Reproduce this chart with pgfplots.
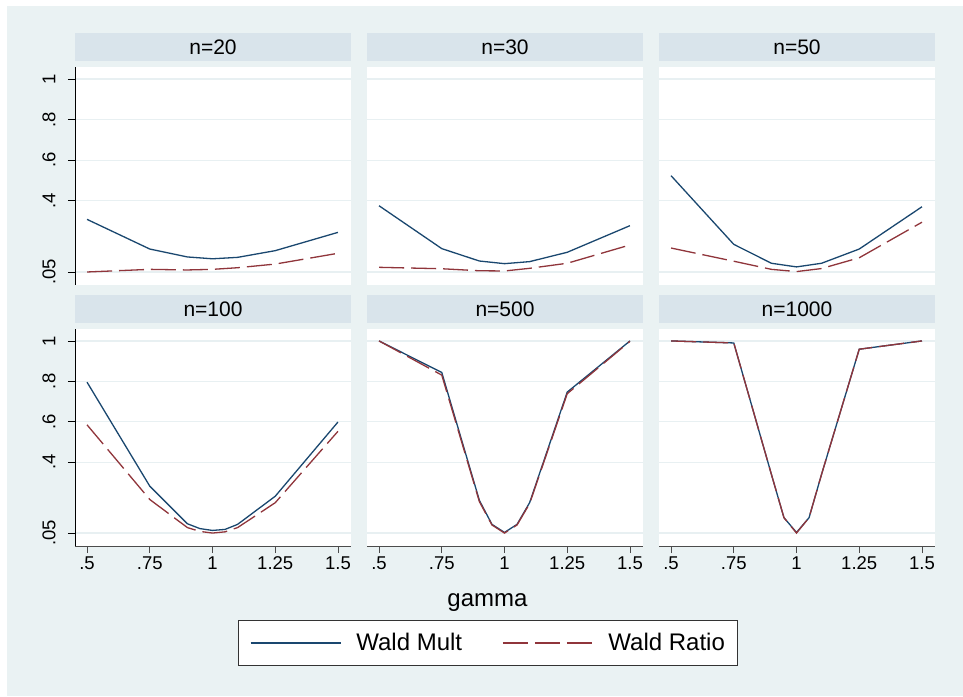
\documentclass[border=0pt]{standalone}
\usepackage{fontspec}
\setmainfont{Liberation Sans}
\usepackage{pgfplots}
\pgfplotsset{compat=1.18}
\definecolor{bgc}{RGB}{234,242,243}
\definecolor{hdr}{RGB}{217,228,235}
\definecolor{gridc}{RGB}{232,240,242}
\definecolor{navy}{RGB}{26,71,111}
\definecolor{maroon}{RGB}{144,53,59}
\newcommand{\tlfont}{\fontsize{18.5}{20}\selectfont}
\pgfplotsset{
 panel/.style={
  scale only axis, width=276pt, height=218pt,
  xmin=0.452, xmax=1.552, ymin=-0.014, ymax=1.059,
  axis background/.style={fill=white},
  axis x line*=bottom, axis y line*=left,
  x axis line style={draw=none}, y axis line style={draw=none},
  xtick={0.5,0.75,1,1.25,1.5}, ytick={0.05,0.4,0.6,0.8,1},
  xticklabels={}, yticklabels={},
  xtick style={draw=none}, ytick style={draw=none},
  ymajorgrids, major grid style={gridc, line width=1.2pt},
  tick align=outside, major tick length=7pt,
  /pgf/number format/assume math mode=true,
  every tick label/.append style={font=\tlfont},
  xticklabel style={font=\tlfont},
  title style={fill=hdr, minimum width=276pt, minimum height=28pt, inner sep=0pt,
    anchor=south, at={(0.5,1)}, yshift=0pt, font=\fontsize{21}{24}\selectfont},
  clip=false,
 },
 yleft/.style={
  yticklabels={.05,.4,.6,.8,1},
  ytick style={draw=black, line width=0.8pt},
  y axis line style={draw=black, line width=0.8pt},
  yticklabel style={rotate=90, anchor=south, font=\tlfont, yshift=9pt},
 },
 xbottom/.style={
  height=217pt,
  xticklabels={.5,.75,1,1.25,1.5},
  xtick style={draw=black!70, line width=0.8pt},
  x axis line style={draw=black!70, line width=0.8pt},
 },
 wm/.style={navy, line width=1.3pt},
 wr/.style={maroon, line width=1.3pt, dash pattern=on 25pt off 7pt},
}
\begin{document}
\begin{tikzpicture}[x=1pt,y=1pt]
\fill[white] (0,0) rectangle (963,696);
\fill[bgc] (7,0) rectangle (963,690);
\path[use as bounding box] (0,0) rectangle (963,696);

% n=20
\begin{axis}[panel, yleft, at={(75pt,411pt)}, anchor=south west, title={n=20}]
\addplot[wm] coordinates {(0.5,0.309)(0.75,0.163)(0.9,0.124)(1,0.115)(1.1,0.122)(1.25,0.155)(1.5,0.245)};
\addplot[wr] coordinates {(0.5,0.050)(0.75,0.063)(0.9,0.060)(1,0.063)(1.1,0.071)(1.25,0.089)(1.5,0.142)};
\end{axis}

% n=30
\begin{axis}[panel, at={(367pt,411pt)}, anchor=south west, title={n=30}]
\addplot[wm] coordinates {(0.5,0.376)(0.75,0.165)(0.9,0.104)(1,0.091)(1.1,0.101)(1.25,0.147)(1.5,0.278)};
\addplot[wr] coordinates {(0.5,0.073)(0.75,0.066)(0.9,0.056)(1,0.055)(1.1,0.068)(1.25,0.093)(1.5,0.183)};
\end{axis}

% n=50
\begin{axis}[panel, at={(659pt,411pt)}, anchor=south west, title={n=50}]
\addplot[wm] coordinates {(0.5,0.524)(0.75,0.186)(0.9,0.093)(1,0.075)(1.1,0.093)(1.25,0.163)(1.5,0.371)};
\addplot[wr] coordinates {(0.5,0.168)(0.75,0.103)(0.9,0.063)(1,0.052)(1.1,0.067)(1.25,0.120)(1.5,0.295)};
\end{axis}

% n=100
\begin{axis}[panel, yleft, xbottom, at={(75pt,150pt)}, anchor=south west, title={n=100}]
\addplot[wm] coordinates {(0.5,0.796)(0.75,0.282)(0.9,0.096)(0.95,0.072)(1,0.063)(1.05,0.068)(1.1,0.093)(1.25,0.232)(1.5,0.599)};
\addplot[wr] coordinates {(0.5,0.585)(0.75,0.216)(0.9,0.077)(0.95,0.058)(1,0.050)(1.05,0.056)(1.1,0.077)(1.25,0.200)(1.5,0.553)};
\end{axis}

% n=500
\begin{axis}[panel, xbottom, at={(367pt,150pt)}, anchor=south west, title={n=500},
  xlabel={gamma},
  xlabel style={at={(axis description cs:0.4366,-0.281)}, anchor=base, font=\fontsize{24}{26}\selectfont},
  legend columns=2,
  legend image code/.code={\draw[#1] (0pt,0pt) -- (90pt,0pt);},
  legend style={at={(0.4366,-0.447)}, anchor=center, draw=black!80, line width=0.8pt, fill=white,
    font=\fontsize{24}{26}\selectfont, inner xsep=12pt, inner ysep=13pt,
    nodes={inner sep=0pt},
    /tikz/every odd column/.append style={column sep=15pt},
    /tikz/every even column/.append style={column sep=40pt}},
  legend cell align=left]
\addplot[wm] coordinates {(0.5,1.0)(0.75,0.844)(0.9,0.211)(0.95,0.093)(1,0.053)(1.05,0.093)(1.1,0.200)(1.25,0.747)(1.5,1.0)};
\addlegendentry{Wald Mult}
\addplot[wr] coordinates {(0.5,1.0)(0.75,0.831)(0.9,0.205)(0.95,0.090)(1,0.050)(1.05,0.090)(1.1,0.195)(1.25,0.739)(1.5,0.998)};
\addlegendentry{Wald Ratio}
\end{axis}

% n=1000
\begin{axis}[panel, xbottom, at={(659pt,150pt)}, anchor=south west, title={n=1000}]
\addplot[wm] coordinates {(0.5,1.0)(0.75,0.990)(0.9,0.340)(0.95,0.126)(1,0.053)(1.05,0.126)(1.1,0.341)(1.25,0.959)(1.5,1.0)};
\addplot[wr] coordinates {(0.5,1.0)(0.75,0.990)(0.9,0.340)(0.95,0.126)(1,0.050)(1.05,0.126)(1.1,0.341)(1.25,0.959)(1.5,1.0)};
\end{axis}
\end{tikzpicture}
\end{document}
